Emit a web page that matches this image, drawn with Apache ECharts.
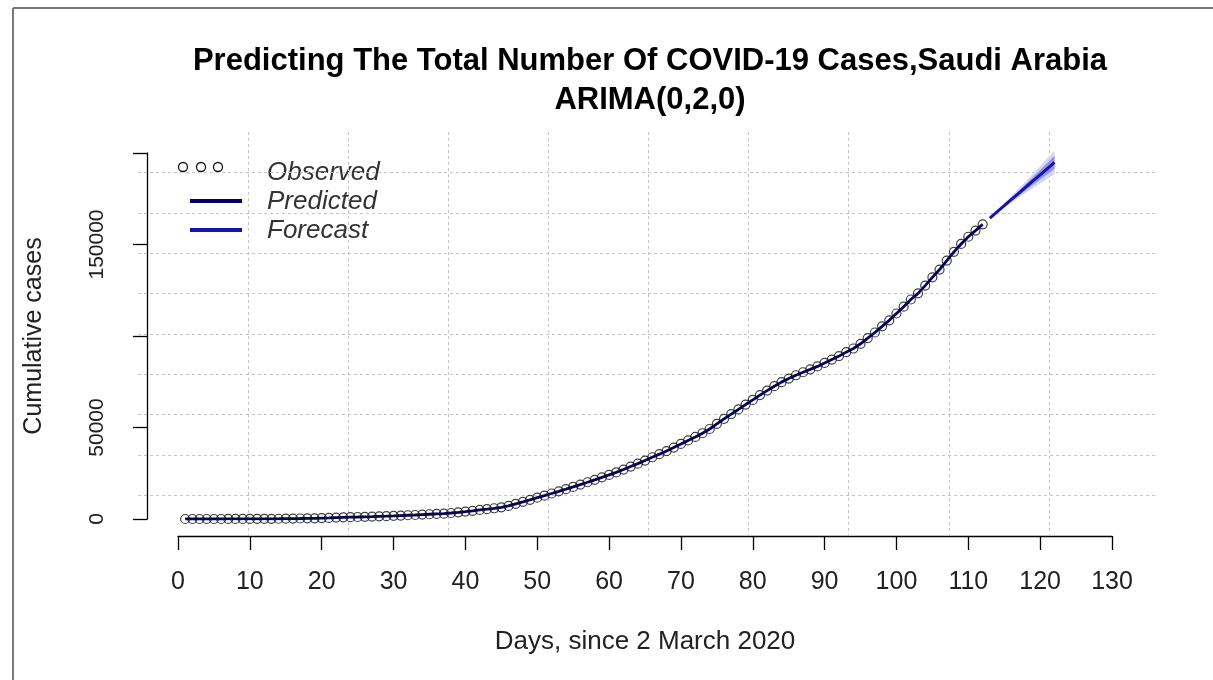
<!DOCTYPE html>
<html>
<head>
<meta charset="utf-8">
<script src="https://cdn.jsdelivr.net/npm/echarts@6/dist/echarts.min.js"></script>
<style>html,body{margin:0;padding:0;background:#fff;}#c{width:1213px;height:680px;}</style>
</head>
<body>
<div id="c"></div>
<script>
// ---- data ----
const titleLines = ['Predicting The Total Number Of COVID-19 Cases,Saudi Arabia', 'ARIMA(0,2,0)'];
const xAxisName = 'Days, since 2 March 2020';
const yAxisName = 'Cumulative cases';
const legendNames = ['Observed', 'Predicted', 'Forecast'];
const yLabelled = [0, 50000, 150000];   // tick values that carry a label
const obsStartDay = 1;
const observed = [1,1,5,5,5,11,15,20,21,45,86,103,118,133,171,238,274,344,392,511,562,767,900,1012,1104,1203,1299,1453,1563,
1720,1885,2039,2179,2402,2605,2795,2932,3287,3651,4033,4462,4934,5369,5862,6380,7142,8274,9362,10484,11631,12772,13930,15102,16299,17522,18811,20077,21402,22753,
24097,25459,27011,28656,30251,31938,33731,35432,37136,39048,41014,42925,44830,46869,49176,52016,54752,57345,59854,62545,65077,67719,70161,72560,74795,76726,78541,80185,81766,83384,85261,
87142,89011,91182,93157,95748,98869,101914,105283,108571,112288,116021,119942,123308,127541,132048,136315,141234,145991,150292,154233,157612,161005];
// predicted (fitted) values coincide with the observed points in the picture
const predicted = observed;
const fcStartDay = 113;
const forecast = [164400,167800,171200,174600,178000,181400,184800,188100,191500,194900];
const upper95 = [164600,168400,172300,176300,180400,184500,188700,192800,197100,201400];
const lower95 = [164200,167200,170100,172900,175600,178300,180900,183400,185900,188400];
const upper80 = [164520,168150,171850,175550,179300,183100,186900,190700,194600,198500];
const lower80 = [164280,167450,170550,173650,176700,179700,182700,185500,188400,191300];

// ---- chart ----
const FF = '"Liberation Sans", Arial, Helvetica, sans-serif';
const chart = echarts.init(document.getElementById('c'));
const pts = (arr, start) => arr.map((v, i) => [start + i, v]);
const c95 = '#d6d6ee', c80 = '#9292e6';

// band drawn as one polygon per level through the axis scales
function bandSeries(name, lo, hi, color, z) {
  return {
    name: name, type: 'custom', xAxisIndex: 0, yAxisIndex: 0, silent: true, z: z,
    data: lo.map((v, i) => [fcStartDay + i, v, hi[i]]),
    encode: {x: 0, y: [1, 2]},
    renderItem: function (params, api) {
      if (params.dataIndex !== 0) return null;
      const top = hi.map((v, i) => api.coord([fcStartDay + i, v]));
      const bot = lo.map((v, i) => api.coord([fcStartDay + i, v])).reverse();
      return {type: 'polygon', shape: {points: top.concat(bot)}, style: {fill: color, stroke: null}};
    }
  };
}

const option = {
  animation: false,
  backgroundColor: '#fff',
  title: {
    text: titleLines.join('\n'), left: 645, top: 37, textAlign: 'center',
    textStyle: {fontFamily: FF, fontSize: 31, fontWeight: 'bold', color: '#000', lineHeight: 39}
  },
  grid: [
    {left: 178, right: 101, top: 153, bottom: 161},
    {left: 148, width: 1001, top: 132, height: 403},
    {left: 138, width: 1017, top: 132.4, height: 403}
  ],
  xAxis: [
    {gridIndex: 0, type: 'value', min: 0, max: 130, interval: 10, offset: 17,
     axisLine: {show: true, onZero: false, lineStyle: {color: '#000', width: 1.3}},
     axisTick: {show: true, length: 14, lineStyle: {color: '#000', width: 1.3}},
     axisLabel: {fontFamily: FF, fontSize: 25, margin: 34, color: '#222'},
     splitLine: {show: false},
     name: xAxisName, nameLocation: 'middle', nameGap: 93,
     nameTextStyle: {fontFamily: FF, fontSize: 26, color: '#222'}},
    {gridIndex: 1, type: 'value', min: 0, max: 10, interval: 1,
     axisLine: {show: false}, axisTick: {show: false}, axisLabel: {show: false},
     splitLine: {show: true, showMinLine: false, showMaxLine: false, lineStyle: {color: '#c4c4c4', type: [3, 3], width: 1}}},
    {gridIndex: 2, type: 'value', min: 0, max: 1, show: false}
  ],
  yAxis: [
    {gridIndex: 0, type: 'value', min: 0, max: 200000, interval: 50000, offset: 31,
     axisLine: {show: true, onZero: false, lineStyle: {color: '#000', width: 1.3}},
     axisTick: {show: true, length: 14, lineStyle: {color: '#000', width: 1.3}},
     axisLabel: {fontFamily: FF, fontSize: 21, margin: 39, color: '#222', rotate: 90,
                 formatter: v => yLabelled.indexOf(v) >= 0 ? String(v) : ''},
     splitLine: {show: false},
     name: yAxisName, nameLocation: 'middle', nameGap: 100,
     nameTextStyle: {fontFamily: FF, fontSize: 25, color: '#222'}},
    {gridIndex: 1, type: 'value', min: 0, max: 1, show: false},
    {gridIndex: 2, type: 'value', min: 0, max: 10, interval: 1,
     axisLine: {show: false}, axisTick: {show: false}, axisLabel: {show: false},
     splitLine: {show: true, showMinLine: false, showMaxLine: false, lineStyle: {color: '#c4c4c4', type: [3, 3], width: 1}}}
  ],
  series: [
    bandSeries('95%', lower95, upper95, c95, 1),
    bandSeries('80%', lower80, upper80, c80, 2),
    {name: legendNames[1], type: 'line', xAxisIndex: 0, yAxisIndex: 0, data: pts(predicted, obsStartDay),
     symbol: 'none', lineStyle: {color: '#000066', width: 2.8}, z: 3},
    {name: legendNames[0], type: 'scatter', xAxisIndex: 0, yAxisIndex: 0, data: pts(observed, obsStartDay),
     symbol: 'circle', symbolSize: 9,
     itemStyle: {color: 'rgba(255,255,255,0)', borderColor: '#111', borderWidth: 1.2}, z: 4},
    {name: legendNames[2], type: 'line', xAxisIndex: 0, yAxisIndex: 0, data: pts(forecast, fcStartDay),
     symbol: 'none', lineStyle: {color: '#1414b4', width: 3}, z: 5}
  ],
  graphic: [
    {type: 'line', shape: {x1: 13, y1: 8, x2: 13, y2: 680}, style: {stroke: '#7a7a7a', lineWidth: 2}},
    {type: 'line', shape: {x1: 13, y1: 8, x2: 1213, y2: 8}, style: {stroke: '#7a7a7a', lineWidth: 2}},
    // legend
    {type: 'circle', shape: {cx: 183, cy: 167, r: 4.5}, style: {fill: 'none', stroke: '#111', lineWidth: 1.3}},
    {type: 'circle', shape: {cx: 201, cy: 167, r: 4.5}, style: {fill: 'none', stroke: '#111', lineWidth: 1.3}},
    {type: 'circle', shape: {cx: 218, cy: 167, r: 4.5}, style: {fill: 'none', stroke: '#111', lineWidth: 1.3}},
    {type: 'line', shape: {x1: 190, y1: 201, x2: 242, y2: 201}, style: {stroke: '#000066', lineWidth: 4}},
    {type: 'line', shape: {x1: 190, y1: 230, x2: 242, y2: 230}, style: {stroke: '#1414b4', lineWidth: 4}},
    {type: 'text', left: 267, top: 160, style: {text: legendNames[0], font: 'italic 26px ' + FF, fill: '#333'}},
    {type: 'text', left: 267, top: 189, style: {text: legendNames[1], font: 'italic 26px ' + FF, fill: '#333'}},
    {type: 'text', left: 267, top: 218, style: {text: legendNames[2], font: 'italic 26px ' + FF, fill: '#333'}}
  ]
};
chart.setOption(option);
</script>
</body>
</html>
